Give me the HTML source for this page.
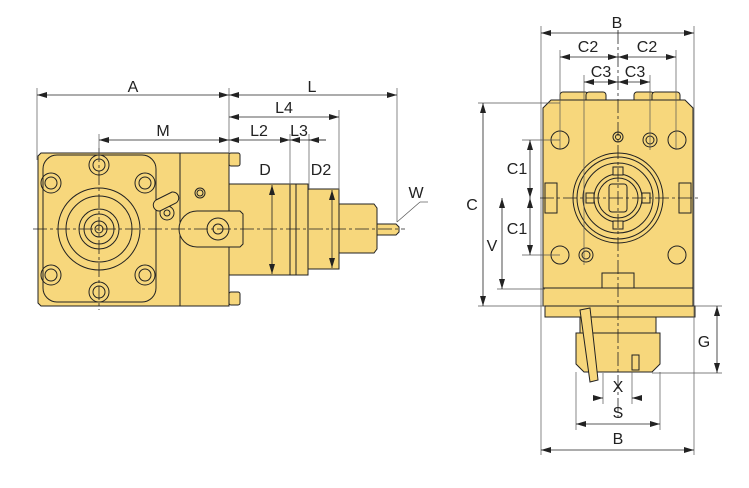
<!DOCTYPE html>
<html><head><meta charset="utf-8"><style>
html,body{margin:0;padding:0;background:#fff;width:749px;height:488px;overflow:hidden}
svg{display:block}
text{font-family:"Liberation Sans",sans-serif;font-size:16px;fill:#222;text-anchor:middle}
</style></head><body>
<svg width="749" height="488" viewBox="0 0 749 488" xmlns="http://www.w3.org/2000/svg">
<defs>
<marker id="a" viewBox="0 0 10 6" refX="10" refY="3" markerWidth="10" markerHeight="6" orient="auto-start-reverse" markerUnits="userSpaceOnUse"><path d="M0,0 L10,3 L0,6 Z" fill="#222"/></marker>
</defs>
<g stroke="#222" stroke-width="1" fill="#f7d77c">
<!-- LEFT VIEW -->
<rect x="229" y="153" width="11" height="13" rx="2"/>
<rect x="229" y="292" width="11" height="13" rx="2"/>
<path d="M38,156 L41,153 L229,153 L229,306 L41,306 L38,303 Z"/>
<line x1="180" y1="153" x2="180" y2="306"/>
<rect x="43" y="155" width="113" height="147" rx="14" fill="none"/>
<circle cx="99" cy="229" r="41" fill="none"/>
<circle cx="99" cy="229" r="33" fill="none"/>
<circle cx="99" cy="229" r="20" fill="none"/>
<circle cx="99" cy="229" r="15" fill="none"/>
<circle cx="99" cy="229" r="8" fill="none"/>
<circle cx="99" cy="229" r="4" fill="none"/>
<g fill="none">
<circle cx="99" cy="165" r="10"/><circle cx="99" cy="165" r="6"/>
<circle cx="51" cy="183" r="10"/><circle cx="51" cy="183" r="6"/>
<circle cx="145" cy="183" r="10"/><circle cx="145" cy="183" r="6"/>
<circle cx="51" cy="275" r="10"/><circle cx="51" cy="275" r="6"/>
<circle cx="145" cy="275" r="10"/><circle cx="145" cy="275" r="6"/>
<circle cx="99" cy="292" r="10"/><circle cx="99" cy="292" r="6"/>
<circle cx="200" cy="193" r="5"/><circle cx="200" cy="193" r="3"/>
<circle cx="167" cy="213" r="7"/><circle cx="167" cy="213" r="3"/>
</g>
<path d="M156,200 L172,192 A6,6 0 0 1 176,203 L160,211 A6,6 0 0 1 156,200 Z"/>
<rect x="229" y="184" width="79" height="91"/>
<line x1="290" y1="184" x2="290" y2="275"/><line x1="296" y1="184" x2="296" y2="275"/>
<rect x="308" y="189" width="31" height="80"/>
<path d="M339,204 L374,204 L377,208 L377,249 L374,253 L339,253 Z"/>
<path d="M377,224 L396,224 L399,227 L399,232 L396,235 L377,235 Z"/>
<path d="M197,211 L240,211 L243,214 L243,244 L240,247 L197,247 A18,18 0 0 1 197,211 Z"/>
<circle cx="218" cy="229" r="11" fill="none"/><circle cx="218" cy="229" r="5" fill="none"/>
<!-- RIGHT VIEW -->
<rect x="560" y="92" width="28" height="12" rx="3"/>
<rect x="586" y="92" width="20" height="12" rx="3"/>
<rect x="634" y="92" width="20" height="12" rx="3"/>
<rect x="652" y="92" width="28" height="12" rx="3"/>
<path d="M551,100 L685,100 L693,108 L693,306 L543,306 L543,108 Z"/>
<line x1="543" y1="288" x2="693" y2="288"/>
<rect x="545" y="306" width="150" height="11"/>
<rect x="580" y="317" width="76" height="16"/>
<path d="M576,333 L660,333 L660,364 L652,372 L584,372 L576,364 Z"/>
<path d="M580,310 L590,308 L598,380 L590,382 Z"/>
<rect x="632" y="355" width="7" height="15"/>
<rect x="602" y="273" width="32" height="15"/>
<rect x="545" y="183" width="12" height="30"/>
<rect x="679" y="183" width="12" height="30"/>
<circle cx="618" cy="198" r="45"/>
<circle cx="618" cy="198" r="41" fill="none"/>
<circle cx="618" cy="198" r="35" fill="none"/>
<circle cx="618" cy="198" r="24" fill="none"/>
<circle cx="618" cy="198" r="20" fill="none"/>
<rect x="609" y="184" width="18" height="28" rx="3"/>
<rect x="613" y="167" width="10" height="8"/><rect x="613" y="221" width="10" height="8"/>
<rect x="586" y="193" width="8" height="10"/><rect x="642" y="193" width="8" height="10"/>
<g fill="none">
<circle cx="560" cy="140" r="9"/><circle cx="677" cy="140" r="9"/>
<circle cx="650" cy="140" r="7"/><circle cx="650" cy="140" r="4"/>
<circle cx="618" cy="137" r="5"/><circle cx="618" cy="137" r="2.5"/>
<circle cx="560" cy="255" r="9"/><circle cx="677" cy="255" r="9"/>
<circle cx="586" cy="255" r="7"/><circle cx="586" cy="255" r="4"/>
</g>
</g>
<!-- centerlines -->
<g stroke="#222" stroke-width="0.8" stroke-dasharray="14,3,3,3" fill="none">
<line x1="33" y1="229" x2="405" y2="229"/>
<line x1="99" y1="148" x2="99" y2="310"/>
<line x1="618" y1="30" x2="618" y2="420"/>
<line x1="540" y1="198" x2="698" y2="198"/>
</g>
<!-- dimension lines -->
<g stroke="#555" stroke-width="0.7" fill="none">
<line x1="37" y1="88" x2="37" y2="160"/><line x1="229" y1="88" x2="229" y2="155"/>
<line x1="397" y1="88" x2="397" y2="222"/><line x1="339" y1="110" x2="339" y2="190"/>
<line x1="99" y1="134" x2="99" y2="160"/><line x1="290" y1="134" x2="290" y2="185"/>
<line x1="309" y1="134" x2="309" y2="190"/>
<line x1="397" y1="222" x2="420" y2="202"/><line x1="420" y1="202" x2="428" y2="202"/>
<line x1="541" y1="26" x2="541" y2="455"/><line x1="694" y1="26" x2="694" y2="455"/>
<line x1="560" y1="50" x2="560" y2="150"/><line x1="676" y1="50" x2="676" y2="150"/>
<line x1="584" y1="75" x2="584" y2="265"/><line x1="650" y1="75" x2="650" y2="150"/>
<line x1="478" y1="103" x2="560" y2="103"/><line x1="478" y1="306" x2="545" y2="306"/>
<line x1="497" y1="289" x2="545" y2="289"/>
<line x1="522" y1="140" x2="560" y2="140"/><line x1="522" y1="255" x2="560" y2="255"/>
<line x1="695" y1="306" x2="722" y2="306"/><line x1="652" y1="373" x2="722" y2="373"/>
<line x1="603" y1="373" x2="603" y2="404"/><line x1="632" y1="372" x2="632" y2="404"/>
<line x1="576" y1="372" x2="576" y2="430"/><line x1="660" y1="372" x2="660" y2="430"/>
</g>
<g stroke="#222" stroke-width="0.8" fill="none" marker-start="url(#a)" marker-end="url(#a)">
<line x1="37" y1="95" x2="229" y2="95"/>
<line x1="229" y1="95" x2="397" y2="95"/>
<line x1="229" y1="117" x2="339" y2="117"/>
<line x1="99" y1="140" x2="229" y2="140"/>
<line x1="229" y1="140" x2="290" y2="140"/>
<line x1="272" y1="185" x2="272" y2="274"/>
<line x1="332" y1="190" x2="332" y2="268"/>
<line x1="541" y1="33" x2="694" y2="33"/>
<line x1="560" y1="57" x2="618" y2="57"/><line x1="618" y1="57" x2="676" y2="57"/>
<line x1="584" y1="82" x2="618" y2="82"/><line x1="618" y1="82" x2="650" y2="82"/>
<line x1="483" y1="103" x2="483" y2="306"/>
<line x1="502" y1="198" x2="502" y2="289"/>
<line x1="530" y1="140" x2="530" y2="198"/><line x1="530" y1="198" x2="530" y2="255"/>
<line x1="717" y1="306" x2="717" y2="373"/>
<line x1="576" y1="424" x2="660" y2="424"/>
<line x1="541" y1="450" x2="694" y2="450"/>
</g>
<g stroke="#222" stroke-width="0.8" fill="none">
<line x1="290" y1="140" x2="326" y2="140" marker-start="url(#a)"/>
<line x1="309" y1="140" x2="326" y2="140" marker-start="url(#a)"/>
<line x1="593" y1="398" x2="603" y2="398" marker-end="url(#a)"/>
<line x1="642" y1="398" x2="632" y2="398" marker-end="url(#a)"/>
</g>
<text x="133" y="92">A</text><text x="312" y="92">L</text>
<text x="284" y="113">L4</text><text x="163" y="136">M</text>
<text x="259" y="136">L2</text><text x="299" y="136">L3</text>
<text x="265" y="175">D</text><text x="321" y="175">D2</text>
<text x="416" y="198">W</text>
<text x="617" y="28">B</text>
<text x="588" y="52">C2</text><text x="647" y="52">C2</text>
<text x="601" y="77">C3</text><text x="635" y="77">C3</text>
<text x="472" y="210">C</text><text x="492" y="251">V</text>
<text x="517" y="174">C1</text><text x="517" y="234">C1</text>
<text x="704" y="347">G</text>
<text x="618" y="392">X</text><text x="618" y="418">S</text>
<text x="618" y="444">B</text>
</svg>
</body></html>
